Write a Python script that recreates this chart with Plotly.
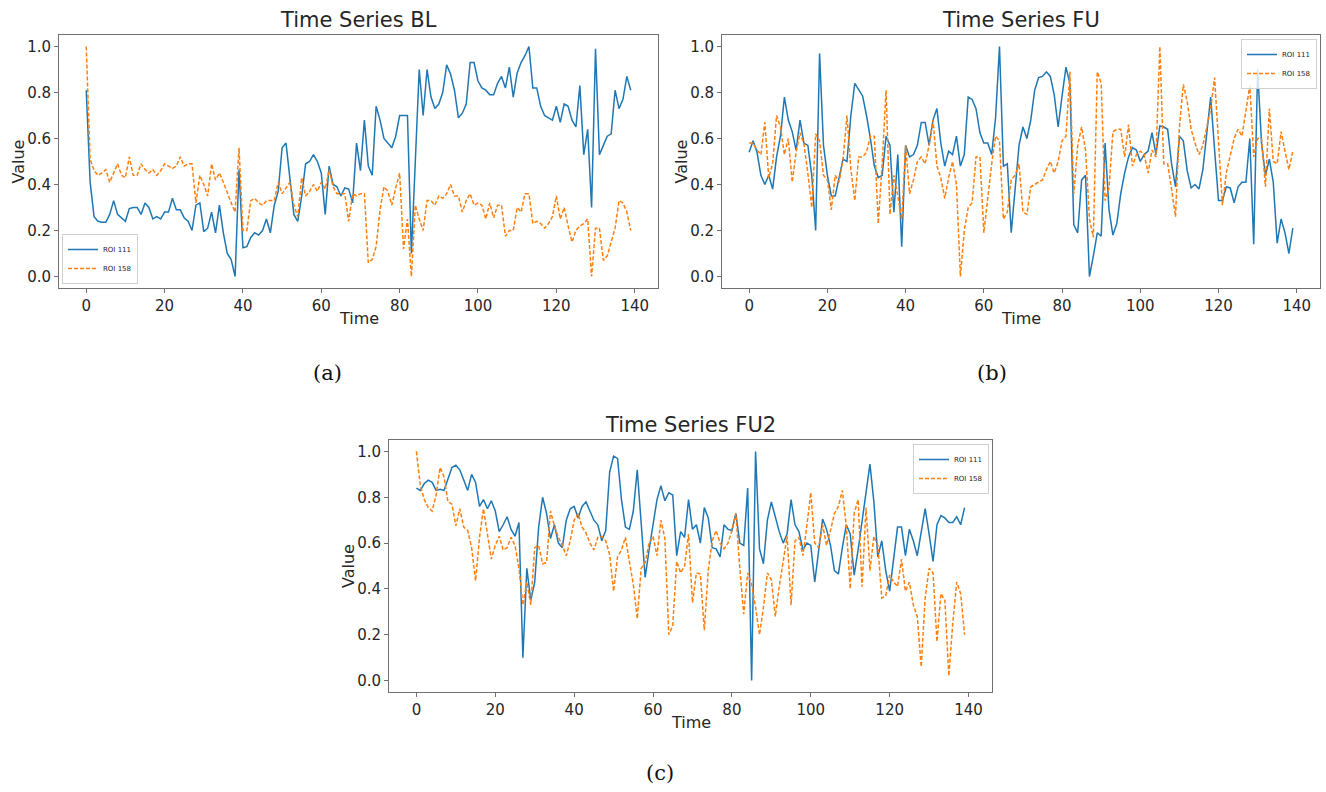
import plotly.graph_objects as go

time = list(range(140))

bl_roi111 = [0.81,0.41,0.26,0.24,0.236,0.236,0.27,0.33,0.27,0.255,
0.24,0.295,0.30,0.30,0.27,0.32,0.30,0.25,0.26,0.25,
0.28,0.28,0.34,0.29,0.29,0.255,0.24,0.20,0.31,0.32,
0.195,0.21,0.28,0.19,0.31,0.19,0.10,0.074,0.0,0.465,
0.125,0.13,0.17,0.19,0.18,0.20,0.25,0.19,0.31,0.37,
0.56,0.58,0.42,0.27,0.24,0.35,0.49,0.50,0.53,0.50,
0.45,0.27,0.48,0.40,0.39,0.35,0.385,0.38,0.32,0.58,
0.46,0.68,0.48,0.44,0.74,0.68,0.60,0.58,0.56,0.61,
0.70,0.70,0.70,0.10,0.50,0.90,0.70,0.90,0.78,0.73,
0.75,0.80,0.92,0.88,0.81,0.69,0.71,0.75,0.93,0.93,
0.85,0.82,0.81,0.79,0.79,0.84,0.87,0.82,0.91,0.78,
0.885,0.93,0.96,1.0,0.82,0.82,0.74,0.70,0.69,0.68,
0.74,0.67,0.75,0.74,0.68,0.65,0.83,0.53,0.64,0.30,
0.99,0.53,0.57,0.61,0.62,0.81,0.73,0.77,0.87,0.81]

bl_roi158 = [1.0,0.51,0.46,0.44,0.45,0.465,0.41,0.45,0.49,0.44,
0.43,0.52,0.44,0.44,0.49,0.465,0.45,0.465,0.44,0.46,
0.49,0.48,0.47,0.48,0.52,0.48,0.49,0.49,0.32,0.44,
0.40,0.35,0.49,0.42,0.45,0.41,0.36,0.32,0.28,0.56,
0.20,0.20,0.33,0.34,0.32,0.31,0.33,0.33,0.33,0.41,
0.36,0.385,0.41,0.31,0.26,0.43,0.35,0.37,0.40,0.37,
0.41,0.38,0.465,0.39,0.36,0.36,0.36,0.24,0.36,0.35,
0.36,0.36,0.06,0.074,0.13,0.29,0.39,0.37,0.31,0.385,
0.45,0.12,0.25,0.0,0.31,0.25,0.20,0.33,0.33,0.31,
0.35,0.34,0.36,0.40,0.35,0.35,0.28,0.33,0.36,0.31,
0.32,0.31,0.25,0.32,0.255,0.31,0.31,0.175,0.20,0.20,
0.30,0.28,0.36,0.36,0.23,0.24,0.23,0.21,0.23,0.26,
0.35,0.25,0.30,0.22,0.15,0.20,0.22,0.23,0.25,0.0,
0.21,0.21,0.07,0.09,0.15,0.21,0.33,0.32,0.28,0.20]

fu_roi111 = [0.54,0.59,0.54,0.44,0.40,0.44,0.38,0.52,0.61,0.78,
0.68,0.63,0.55,0.68,0.58,0.57,0.44,0.20,0.97,0.57,
0.44,0.35,0.35,0.43,0.51,0.50,0.70,0.84,0.81,0.785,
0.70,0.60,0.48,0.43,0.44,0.61,0.57,0.28,0.53,0.13,
0.57,0.52,0.53,0.57,0.67,0.67,0.57,0.68,0.73,0.58,
0.48,0.545,0.53,0.61,0.48,0.53,0.78,0.77,0.73,0.625,
0.58,0.58,0.53,0.69,1.0,0.48,0.49,0.19,0.38,0.57,
0.65,0.60,0.68,0.81,0.865,0.87,0.89,0.87,0.79,0.65,
0.785,0.91,0.84,0.225,0.19,0.42,0.44,0.0,0.09,0.19,
0.175,0.58,0.29,0.18,0.23,0.36,0.45,0.52,0.56,0.55,
0.50,0.53,0.545,0.625,0.53,0.655,0.65,0.64,0.49,0.39,
0.61,0.59,0.46,0.385,0.40,0.38,0.465,0.61,0.78,0.55,
0.33,0.33,0.39,0.385,0.32,0.39,0.41,0.41,0.60,0.14,
0.90,0.58,0.44,0.51,0.41,0.145,0.25,0.19,0.10,0.21]

fu_roi158 = [0.58,0.58,0.55,0.53,0.67,0.43,0.49,0.70,0.65,0.53,
0.60,0.41,0.54,0.625,0.575,0.45,0.30,0.62,0.59,0.44,
0.42,0.29,0.44,0.41,0.51,0.70,0.465,0.33,0.52,0.52,
0.54,0.61,0.61,0.23,0.49,0.81,0.27,0.44,0.35,0.25,
0.57,0.36,0.42,0.50,0.52,0.49,0.57,0.68,0.48,0.43,
0.34,0.43,0.50,0.40,0.0,0.20,0.30,0.32,0.52,0.52,
0.19,0.35,0.49,0.61,0.59,0.25,0.28,0.42,0.44,0.49,
0.28,0.27,0.39,0.40,0.41,0.42,0.465,0.50,0.45,0.50,
0.59,0.61,0.89,0.36,0.57,0.65,0.55,0.25,0.17,0.89,
0.84,0.33,0.385,0.63,0.64,0.64,0.52,0.66,0.48,0.53,
0.545,0.53,0.45,0.55,0.52,1.0,0.49,0.49,0.38,0.26,
0.65,0.835,0.76,0.64,0.58,0.53,0.57,0.65,0.73,0.865,
0.60,0.31,0.45,0.53,0.60,0.64,0.61,0.72,0.83,0.52,
0.60,0.60,0.39,0.73,0.50,0.49,0.63,0.545,0.465,0.545]

fu2_roi111 = [0.84,0.83,0.86,0.875,0.865,0.83,0.835,0.83,0.88,0.93,
0.94,0.92,0.875,0.83,0.90,0.865,0.76,0.79,0.75,0.785,
0.74,0.65,0.68,0.715,0.66,0.63,0.69,0.10,0.49,0.35,
0.43,0.67,0.80,0.73,0.62,0.68,0.60,0.58,0.70,0.75,
0.76,0.71,0.76,0.78,0.74,0.70,0.68,0.61,0.655,0.91,
0.98,0.97,0.79,0.67,0.66,0.74,0.92,0.69,0.45,0.57,
0.68,0.79,0.85,0.785,0.82,0.81,0.545,0.65,0.625,0.79,
0.66,0.68,0.60,0.755,0.71,0.58,0.575,0.54,0.68,0.66,
0.655,0.73,0.60,0.59,0.84,0.0,1.0,0.575,0.51,0.70,
0.78,0.71,0.65,0.60,0.64,0.79,0.68,0.65,0.57,0.60,
0.59,0.43,0.58,0.705,0.66,0.59,0.48,0.465,0.58,0.68,
0.64,0.46,0.57,0.69,0.82,0.945,0.78,0.54,0.61,0.48,
0.39,0.53,0.67,0.67,0.545,0.66,0.61,0.545,0.655,0.75,
0.64,0.52,0.68,0.72,0.71,0.69,0.69,0.715,0.68,0.755]

fu2_roi158 = [1.0,0.85,0.79,0.755,0.74,0.81,0.93,0.89,0.78,0.77,
0.675,0.75,0.67,0.655,0.58,0.435,0.625,0.75,0.64,0.53,
0.59,0.63,0.57,0.58,0.625,0.59,0.49,0.33,0.43,0.33,
0.58,0.59,0.51,0.515,0.74,0.675,0.625,0.59,0.545,0.61,
0.70,0.73,0.67,0.645,0.60,0.57,0.625,0.63,0.61,0.55,
0.39,0.54,0.57,0.625,0.52,0.42,0.27,0.49,0.515,0.60,
0.63,0.545,0.70,0.62,0.20,0.24,0.52,0.47,0.50,0.64,
0.34,0.47,0.465,0.22,0.48,0.61,0.655,0.60,0.575,0.60,
0.655,0.73,0.49,0.29,0.47,0.42,0.32,0.20,0.32,0.47,
0.44,0.28,0.41,0.52,0.63,0.33,0.61,0.625,0.545,0.675,
0.82,0.60,0.58,0.68,0.59,0.655,0.73,0.76,0.83,0.675,
0.40,0.73,0.79,0.41,0.755,0.48,0.63,0.59,0.36,0.37,
0.46,0.43,0.41,0.53,0.39,0.43,0.33,0.28,0.06,0.36,
0.49,0.47,0.17,0.38,0.35,0.02,0.25,0.43,0.38,0.20]

x_ticks = [0, 20, 40, 60, 80, 100, 120, 140]
y_ticks = [0.0, 0.2, 0.4, 0.6, 0.8, 1.0]
titles = ["Time Series BL", "Time Series FU", "Time Series FU2"]
captions = ["(a)", "(b)", "(c)"]
series_names = ["ROI 111", "ROI 158"]

W, H = 1326, 792
def px(x): return x / W
def py(y): return 1 - y / H

BLUE = "#1f77b4"
ORANGE = "#ff7f0e"
FONT = "DejaVu Sans"
TXT = "#262626"
FRAME = "#707070"

panels = [
    dict(data=(bl_roi111, bl_roi158), box=(59, 658, 35, 288), legend="legend",
         cap=(327, 373)),
    dict(data=(fu_roi111, fu_roi158), box=(722, 1320, 35, 288), legend="legend2",
         cap=(992, 373)),
    dict(data=(fu2_roi111, fu2_roi158), box=(389, 992, 440, 692), legend="legend3",
         cap=(660, 773)),
]

fig = go.Figure()
annotations = []
for i, p in enumerate(panels):
    xa = "x" if i == 0 else f"x{i+1}"
    ya = "y" if i == 0 else f"y{i+1}"
    b1, b2 = p["data"]
    fig.add_trace(go.Scatter(x=time, y=b1, mode="lines", name=series_names[0],
                             line=dict(color=BLUE, width=1.5),
                             xaxis=xa, yaxis=ya, legend=p["legend"]))
    fig.add_trace(go.Scatter(x=time, y=b2, mode="lines", name=series_names[1],
                             line=dict(color=ORANGE, width=1.5, dash="4px,2px"),
                             xaxis=xa, yaxis=ya, legend=p["legend"]))
    x0, x1, y0, y1 = p["box"]
    axcommon = dict(showline=True, mirror=True, linecolor=FRAME, linewidth=1,
                    showgrid=False, zeroline=False, ticks="outside", ticklen=4,
                    tickcolor=FRAME, tickfont=dict(family=FONT, size=15, color=TXT))
    xkey = "xaxis" if i == 0 else f"xaxis{i+1}"
    ykey = "yaxis" if i == 0 else f"yaxis{i+1}"
    fig.update_layout(**{
        xkey: dict(domain=[px(x0), px(x1)], range=[-6.95, 145.95],
                   tickvals=x_ticks, anchor=ya, **axcommon),
        ykey: dict(domain=[py(y1), py(y0)], range=[-0.05, 1.05],
                   tickvals=y_ticks, tickformat=".1f", anchor=xa, **axcommon),
    })
    cx = (x0 + x1) / 2
    annotations.append(dict(text=titles[i], x=px(cx), y=py(y0 - 15), xref="paper",
                            yref="paper", showarrow=False, xanchor="center",
                            yanchor="middle", font=dict(family=FONT, size=21, color=TXT)))
    annotations.append(dict(text="Time", x=px(cx), y=py(y1 + 30), xref="paper",
                            yref="paper", showarrow=False, xanchor="center",
                            yanchor="middle", font=dict(family=FONT, size=16, color=TXT)))
    annotations.append(dict(text="Value", x=px(x0 - 41), y=py((y0 + y1) / 2),
                            xref="paper", yref="paper", showarrow=False, textangle=-90,
                            xanchor="center", yanchor="middle",
                            font=dict(family=FONT, size=16, color=TXT)))
    annotations.append(dict(text=captions[i], x=px(p["cap"][0]), y=py(p["cap"][1]),
                            xref="paper", yref="paper", showarrow=False,
                            xanchor="center", yanchor="middle",
                            font=dict(family="DejaVu Serif", size=21, color="#111")))

legcommon = dict(font=dict(family=FONT, size=7, color=TXT), bgcolor="rgba(255,255,255,0.8)",
                 bordercolor="#d0d0d0", borderwidth=1, itemwidth=30, tracegroupgap=0)
fig.update_layout(
    width=W, height=H, margin=dict(l=0, r=0, t=0, b=0),
    paper_bgcolor="white", plot_bgcolor="white",
    annotations=annotations,
    legend=dict(x=px(62), y=py(284), xanchor="left", yanchor="bottom", **legcommon),
    legend2=dict(x=px(1317), y=py(39), xanchor="right", yanchor="top", **legcommon),
    legend3=dict(x=px(989), y=py(444), xanchor="right", yanchor="top", **legcommon),
)

fig.write_html("out.html", config={"displayModeBar": False},
               post_script="document.body.style.margin='0';document.body.style.overflow='hidden';")
